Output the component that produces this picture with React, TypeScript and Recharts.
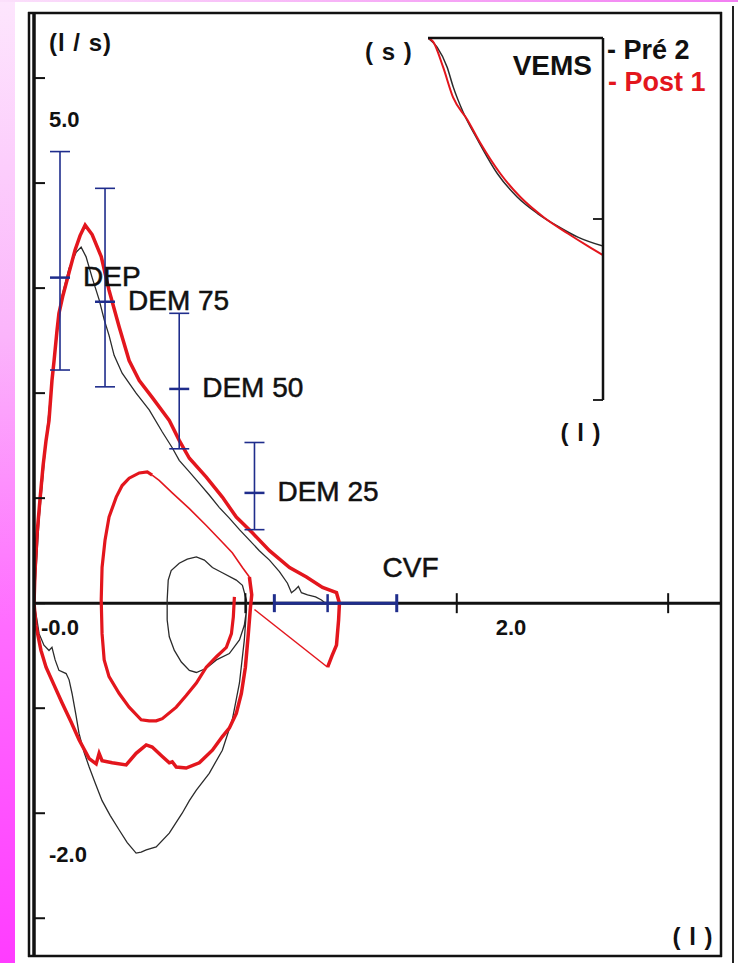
import React from "react";
import { ComposedChart, LineChart, Line, Scatter, ErrorBar, XAxis, YAxis, ReferenceLine } from "recharts";

type Pt = { x: number; y: number };
const toPts = (rows: number[][]): Pt[] => rows.map(([x, y]) => ({ x, y }));

const RED = "#e3161d";
const DARK = "#2b2b2b";
const NAVY = "#1f2d8c";
const FONT = "'Liberation Sans', Arial, sans-serif";

// flow-volume: volume (l) vs flow (l/s)
const postForced = toPts([
  [0, 0], [0.005, 0.31], [0.014, 0.65], [0.028, 0.98], [0.043, 1.31], [0.057, 1.55], [0.071, 1.74],
  [0.085, 2.12], [0.095, 2.31], [0.109, 2.6], [0.118, 2.76], [0.137, 2.93], [0.166, 3.15], [0.194, 3.36],
  [0.218, 3.5], [0.242, 3.6], [0.275, 3.51], [0.318, 3.3], [0.355, 2.98], [0.403, 2.63], [0.45, 2.31],
  [0.498, 2.12], [0.559, 1.96], [0.64, 1.74], [0.687, 1.55], [0.735, 1.38], [0.815, 1.2], [0.891, 1.01],
  [0.957, 0.82], [1.033, 0.67], [1.114, 0.5], [1.209, 0.34], [1.289, 0.25], [1.365, 0.15], [1.431, 0.1],
  [1.445, 0.0], [1.441, -0.16], [1.431, -0.4], [1.41, -0.5], [1.389, -0.61],
]);
const postClosing = toPts([[1.389, -0.61], [1.043, -0.06]]);
const postInspOuter = toPts([
  [0, 0], [0.009, -0.21], [0.033, -0.45], [0.057, -0.61], [0.095, -0.78], [0.133, -0.95], [0.175, -1.13],
  [0.213, -1.3], [0.261, -1.48], [0.294, -1.53], [0.308, -1.43], [0.322, -1.5], [0.37, -1.52], [0.436, -1.54],
  [0.483, -1.43], [0.531, -1.35], [0.559, -1.37], [0.607, -1.46], [0.64, -1.52], [0.654, -1.51], [0.673, -1.56],
  [0.72, -1.57], [0.782, -1.52], [0.844, -1.4], [0.891, -1.27], [0.924, -1.19], [0.957, -1.05], [0.981, -0.86],
  [1.0, -0.61], [1.014, -0.29], [1.024, -0.04], [1.03, 0.08], [1.024, 0.17], [1.019, 0.25],
]);
const postTidalThin = toPts([
  [1.019, 0.25], [0.986, 0.34], [0.938, 0.48], [0.891, 0.58], [0.815, 0.74], [0.735, 0.9], [0.654, 1.05],
  [0.592, 1.17], [0.559, 1.22],
]);
const postInner = toPts([
  [0.559, 1.22], [0.536, 1.25], [0.498, 1.24], [0.45, 1.19], [0.417, 1.12], [0.389, 1.01], [0.355, 0.82],
  [0.336, 0.6], [0.322, 0.34], [0.318, 0.03], [0.322, -0.29], [0.332, -0.54], [0.355, -0.7], [0.403, -0.86],
  [0.45, -0.99], [0.507, -1.11], [0.545, -1.12], [0.578, -1.12], [0.607, -1.1], [0.673, -0.99], [0.72, -0.88],
  [0.768, -0.76], [0.815, -0.61], [0.863, -0.51], [0.91, -0.42], [0.934, -0.29], [0.943, -0.13], [0.948, 0.06],
]);
const preForced = toPts([
  [0, 0], [0.024, 0.79], [0.057, 1.55], [0.095, 2.31], [0.128, 2.89], [0.166, 3.19], [0.199, 3.34],
  [0.223, 3.39], [0.246, 3.3], [0.275, 3.1], [0.308, 2.89], [0.332, 2.7], [0.355, 2.55], [0.379, 2.36],
  [0.417, 2.19], [0.483, 2.0], [0.545, 1.84], [0.607, 1.63], [0.654, 1.48], [0.687, 1.36], [0.735, 1.25],
  [0.782, 1.14], [0.829, 1.03], [0.877, 0.91], [0.924, 0.81], [0.972, 0.7], [1.019, 0.6], [1.066, 0.5],
  [1.114, 0.41], [1.161, 0.3], [1.199, 0.19], [1.218, 0.1], [1.237, 0.13], [1.251, 0.16], [1.265, 0.1],
  [1.294, 0.08], [1.332, 0.06], [1.36, 0.03], [1.379, 0.0],
]);
const preInsp = toPts([
  [0, 0], [0.014, -0.16], [0.024, -0.29], [0.047, -0.4], [0.071, -0.45], [0.085, -0.42], [0.1, -0.54],
  [0.118, -0.64], [0.152, -0.67], [0.166, -0.73], [0.18, -0.86], [0.199, -1.07], [0.213, -1.24],
  [0.237, -1.42], [0.261, -1.56], [0.289, -1.71], [0.322, -1.88], [0.36, -2.02], [0.403, -2.16],
  [0.441, -2.28], [0.483, -2.38], [0.507, -2.37], [0.531, -2.35], [0.578, -2.32], [0.64, -2.19],
  [0.701, -2.0], [0.735, -1.88], [0.768, -1.78], [0.829, -1.62], [0.891, -1.4], [0.938, -1.11],
  [0.972, -0.76], [0.995, -0.35], [1.005, -0.07], [1.005, 0.03], [0.986, 0.17], [0.957, 0.22],
  [0.891, 0.29], [0.844, 0.34], [0.806, 0.41], [0.768, 0.44], [0.725, 0.42], [0.687, 0.38], [0.649, 0.31],
  [0.635, 0.22], [0.63, 0.03], [0.63, -0.16], [0.64, -0.32], [0.664, -0.45], [0.697, -0.56], [0.735, -0.64],
  [0.768, -0.66], [0.815, -0.62], [0.863, -0.54], [0.924, -0.48], [0.972, -0.35], [0.995, -0.21], [1.005, -0.07],
]);

// predicted values with the spread below / above
const predNames = ["DEP", "DEM 75", "DEM 50", "DEM 25"];
const predX = [0.123, 0.336, 0.687, 1.043];
const predY = [3.1, 2.87, 2.04, 1.05];
const predLow = [0.88, 0.81, 0.57, 0.35];
const predHigh = [1.2, 1.08, 0.72, 0.48];
const predicted = predNames.map((name, i) => ({ name, x: predX[i], y: predY[i], err: [predLow[i], predHigh[i]] }));
const cvfPredicted = [{ name: "CVF", x: 1.389, y: 0, err: [0.252, 0.327] }];

const xTickValues = [1, 2, 3];
const yTickValues = [-3, -2, -1, 0, 1, 2, 3, 4, 5];
const xTickLabels = [{ x: 0, y: 0, label: "-0.0" }, { x: 2, y: 0, label: "2.0" }];
const yTickText: Record<number, string> = { 5: "5.0", [-2]: "-2.0" };
const xLabelDx: Record<string, number> = { "-0.0": 7, "2.0": 39 };

// VEMS inset: time (s) vs volume (l)
const vemsPre = toPts([
  [0, 0], [0.052, 0.05], [0.109, 0.16], [0.144, 0.27], [0.201, 0.41], [0.282, 0.56], [0.397, 0.75],
  [0.511, 0.88], [0.626, 0.97], [0.741, 1.04], [0.856, 1.1], [1.0, 1.15],
]);
const vemsPost = toPts([
  [0, 0], [0.029, 0.02], [0.086, 0.16], [0.144, 0.33], [0.224, 0.45], [0.299, 0.58], [0.414, 0.75],
  [0.529, 0.88], [0.661, 0.99], [0.799, 1.08], [0.914, 1.15], [1.0, 1.2],
]);

const YTick = (p: any) => {
  const label = yTickText[p.payload?.value];
  if (!label) return <g />;
  return (
    <text x={p.x + 2} y={p.y + 49} fontSize={22} fontWeight="bold" fill="#111" fontFamily={FONT} textAnchor="start">
      {label}
    </text>
  );
};

const PredMark = (p: any) => (
  <g>
    <line x1={p.cx - 10} x2={p.cx + 10} y1={p.cy} y2={p.cy} stroke={NAVY} strokeWidth={2.5} />
    <text x={p.cx + 23} y={p.cy + 8} fontSize={28} fill="#111" stroke="#111" strokeWidth={0.5} fontFamily={FONT}>
      {p.payload?.name}
    </text>
  </g>
);

const CvfMark = (p: any) => (
  <g>
    <line x1={p.cx} x2={p.cx} y1={p.cy - 9} y2={p.cy + 9} stroke={NAVY} strokeWidth={2.5} />
    <text x={p.cx + 55} y={p.cy - 26} fontSize={28} fill="#111" stroke="#111" strokeWidth={0.5} fontFamily={FONT}>
      {p.payload?.name}
    </text>
  </g>
);

const XTickMark = (p: any) => (
  <line x1={p.cx} x2={p.cx} y1={p.cy - 10} y2={p.cy + 10} stroke="#111" strokeWidth={2} />
);

const XTickLabel = (p: any) => {
  const label = p.payload?.label ?? "";
  return (
    <text x={p.cx + (xLabelDx[label] ?? 0)} y={p.cy + 32} fontSize={22} fontWeight="bold" fill="#111" fontFamily={FONT}>
      {label}
    </text>
  );
};

const Frame = () => (
  <svg width={738} height={963} style={{ position: "absolute", left: 0, top: 0 }}>
    <line x1={29} x2={29} y1={12} y2={957} stroke="#111" strokeWidth={2.5} />
    <line x1={28} x2={722} y1={13} y2={13} stroke="#111" strokeWidth={2.5} />
    <line x1={721} x2={721} y1={12} y2={957} stroke="#111" strokeWidth={2.5} />
    <line x1={28} x2={722} y1={956} y2={956} stroke="#111" strokeWidth={2.5} />
    <line x1={733} x2={733} y1={6} y2={963} stroke="#222" strokeWidth={2} />
    <g fontFamily={FONT} fontWeight="bold" fill="#111">
      <text x={49} y={51} fontSize={24} letterSpacing={1}>(l / s)</text>
      <text x={365} y={60} fontSize={24} letterSpacing={1}>( s )</text>
      <text x={592} y={75} fontSize={28} textAnchor="end">VEMS</text>
      <text x={607} y={59} fontSize={27}>- Pré 2</text>
      <text x={608} y={91} fontSize={27} fill={RED}>- Post 1</text>
      <text x={581} y={441} fontSize={24} textAnchor="middle" letterSpacing={1}>( l )</text>
      <text x={693} y={945} fontSize={24} textAnchor="middle" letterSpacing={1}>( l )</text>
    </g>
  </svg>
);

export default function App() {
  return (
    <div style={{ position: "absolute", left: 0, top: 0, width: 738, height: 963, background: "#fff", overflow: "hidden", fontFamily: FONT }}>
      <div style={{ position: "absolute", left: 0, top: 0, width: 15, height: 963, background: "linear-gradient(#fde6fd, #fbb4fb 35%, #ff6cff 65%, #ff3cff)" }} />
      <div style={{ position: "absolute", left: 0, top: 0, width: 738, height: 2, background: "linear-gradient(90deg, #fbe0fb, #f27ef2)" }} />
      <Frame />
      <div style={{ position: "absolute", left: 0, top: 0 }}>
        <ComposedChart width={738} height={963} margin={{ top: 14, right: 17, bottom: 8, left: 34 }}>
          <XAxis type="number" dataKey="x" domain={[0, 3.25]} allowDataOverflow hide />
          <YAxis
            type="number"
            dataKey="y"
            domain={[-3.35, 5.61]}
            allowDataOverflow
            ticks={yTickValues}
            width={1}
            mirror
            tickSize={11}
            axisLine={{ stroke: "#111", strokeWidth: 3.5 }}
            tickLine={{ stroke: "#111", strokeWidth: 2 }}
            tick={(p: any) => <YTick {...p} />}
          />
          <ReferenceLine y={0} stroke="#111" strokeWidth={3} />
          <Scatter data={xTickValues.map((x) => ({ x, y: 0 }))} shape={XTickMark} isAnimationActive={false} />
          <Scatter data={xTickLabels} shape={XTickLabel} isAnimationActive={false} />
          <Line data={preForced} dataKey="y" stroke={DARK} strokeWidth={1.3} dot={false} activeDot={false} isAnimationActive={false} />
          <Line data={preInsp} dataKey="y" stroke={DARK} strokeWidth={1.3} dot={false} activeDot={false} isAnimationActive={false} />
          <Line data={postForced} dataKey="y" stroke={RED} strokeWidth={3.5} dot={false} activeDot={false} isAnimationActive={false} />
          <Line data={postClosing} dataKey="y" stroke={RED} strokeWidth={1.5} dot={false} activeDot={false} isAnimationActive={false} />
          <Line data={postInspOuter} dataKey="y" stroke={RED} strokeWidth={3.5} dot={false} activeDot={false} isAnimationActive={false} />
          <Line data={postTidalThin} dataKey="y" stroke={RED} strokeWidth={1.6} dot={false} activeDot={false} isAnimationActive={false} />
          <Line data={postInner} dataKey="y" stroke={RED} strokeWidth={3.2} dot={false} activeDot={false} isAnimationActive={false} />
          <Scatter data={predicted} shape={PredMark} isAnimationActive={false}>
            <ErrorBar dataKey="err" direction="y" width={10} stroke={NAVY} strokeWidth={1.6} isAnimationActive={false} />
          </Scatter>
          <Scatter data={cvfPredicted} shape={CvfMark} isAnimationActive={false}>
            <ErrorBar dataKey="err" direction="x" width={9} stroke={NAVY} strokeWidth={3} isAnimationActive={false} />
          </Scatter>
        </ComposedChart>
      </div>
      <div style={{ position: "absolute", left: 0, top: 0 }}>
        <LineChart width={738} height={963} margin={{ top: 37, right: 135, bottom: 563, left: 428 }}>
          <XAxis
            type="number"
            dataKey="x"
            orientation="top"
            domain={[0, 1]}
            allowDataOverflow
            height={1}
            axisLine={{ stroke: "#111", strokeWidth: 2.5 }}
            tickLine={false}
            tick={false}
          />
          <YAxis
            type="number"
            dataKey="y"
            orientation="right"
            domain={[0, 2]}
            reversed
            allowDataOverflow
            ticks={[1, 2]}
            width={1}
            mirror
            tickSize={10}
            axisLine={{ stroke: "#111", strokeWidth: 2.5 }}
            tickLine={{ stroke: "#111", strokeWidth: 1.8 }}
            tickFormatter={() => ""}
          />
          <Line data={vemsPre} dataKey="y" type="monotone" stroke={DARK} strokeWidth={1.5} dot={false} activeDot={false} isAnimationActive={false} />
          <Line data={vemsPost} dataKey="y" type="monotone" stroke={RED} strokeWidth={2} dot={false} activeDot={false} isAnimationActive={false} />
        </LineChart>
      </div>
    </div>
  );
}
